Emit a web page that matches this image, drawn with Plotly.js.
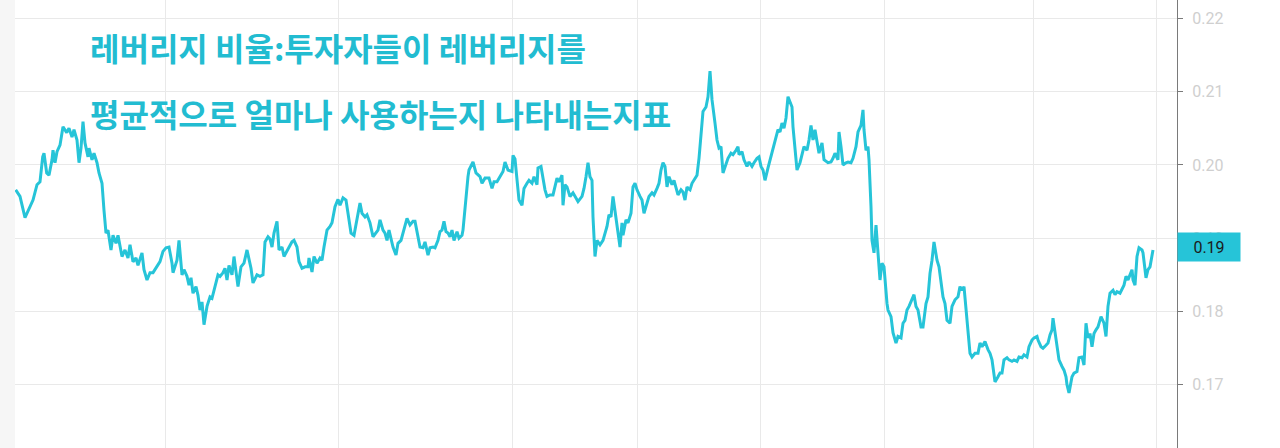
<!DOCTYPE html>
<html>
<head>
<meta charset="utf-8">
<script src="https://cdn.plot.ly/plotly-3.0.1.min.js"></script>
<style>
  html, body { margin: 0; padding: 0; background: #ffffff; }
  #chart { width: 1280px; height: 448px; }
</style>
</head>
<body>
<div id="chart"></div>
<script>
// Time position of each reading (trading-day index)
const days = [
  0.7, 5, 10, 13, 18, 22, 25, 27.7, 29, 31.7, 34, 37, 38, 40, 42, 45, 48, 51.7, 54, 57, 59, 62, 64, 66, 68, 70, 73, 74, 77, 79, 82, 84, 87, 89, 91, 93, 96, 98, 101, 103, 107, 110, 113, 115, 118, 121, 123, 127, 129, 132, 135, 138, 142, 145, 148, 151,
  154, 157, 158, 162, 164, 167, 169, 172, 174, 176, 178, 181, 183, 185, 187, 189, 192, 195, 197, 200, 203, 205, 208, 210, 212, 214, 217, 219, 221, 223, 226, 229, 232, 234, 236, 238, 242, 245, 248, 250, 253, 255, 257, 259, 262, 264, 267, 269, 272, 274, 277, 279, 282, 284, 287, 290, 293, 294, 297, 299, 302, 305, 307, 309, 312, 315, 317, 320,
  323, 325, 328, 331, 333, 336, 339, 343, 345, 347, 350, 352, 355, 358, 361, 363, 365, 368, 370, 372, 374, 377, 378, 381, 383, 386, 388, 390, 392, 395, 398, 400, 403, 405, 408, 410, 413, 415, 418, 420, 423, 425, 427, 429, 431, 433, 435, 437, 439, 442, 444, 447, 448, 450, 453, 454, 457, 458, 461, 463, 465, 467, 470, 473, 474, 477, 479, 482, 485, 488, 490, 493, 497,
  498, 500, 502, 504, 507, 509, 512, 514, 517, 519, 522, 523, 526, 528, 530, 532, 535, 538, 540, 542, 544, 547, 548, 550, 552, 555, 558, 560, 563, 567, 569, 571, 573, 575, 577, 578, 580, 582, 585, 588, 590, 592, 594, 596, 598, 600, 602, 605, 607, 608, 611, 613, 616, 618, 620, 622, 625, 627, 629, 632, 634, 637, 639, 642, 644, 646, 648, 650, 652, 654, 657, 659, 661, 663, 666, 668, 670, 672,
  673, 675, 677, 679, 682, 684, 686, 688, 691, 693, 695, 697, 700, 702, 704, 706, 708, 711, 713, 716, 718, 721, 723, 724, 727, 729, 732, 734, 737, 739, 742, 744, 746, 748, 750, 753, 755, 757, 760, 763, 765, 767, 769, 771, 773, 775, 777, 778, 780, 782, 785, 787, 789, 792, 794, 796, 798, 800, 802, 804, 807, 809, 813, 816, 818, 820, 823, 824, 826, 828, 831, 833, 836, 838, 841, 843, 846, 848, 849, 851, 853,
  854, 856, 857, 859, 861, 863, 865, 867, 869, 872, 873, 876, 878, 881, 883, 886, 888, 890, 892, 894, 897, 899, 901, 903, 906, 908, 911, 913, 915, 917, 919, 922, 924, 926, 928, 930, 932, 935, 937, 940, 943, 945, 947, 949, 951, 953, 955, 957, 960, 963, 965, 967, 970, 973, 975, 977, 980, 983,
  985, 987, 989, 992, 994, 997, 999, 1002, 1004, 1007, 1009, 1012, 1014, 1017, 1019, 1022, 1023, 1026, 1028, 1031, 1033, 1035, 1037, 1038, 1040, 1042, 1044, 1047, 1049, 1051, 1052, 1054, 1057, 1059, 1062, 1064, 1067, 1069, 1071, 1073, 1075, 1077, 1079, 1081, 1083, 1086, 1088, 1089, 1091, 1093, 1095, 1098, 1100, 1102, 1105, 1108, 1109, 1111, 1113, 1115, 1117, 1118, 1120, 1122, 1124, 1127, 1128, 1131, 1133, 1135, 1137, 1138
];

// Leverage ratio readings
const leverage = [
  0.1966, 0.1957, 0.1928, 0.1938, 0.1952, 0.1973, 0.1977, 0.2011, 0.2016, 0.1989, 0.1986, 0.2007, 0.2020, 0.2003, 0.2018, 0.2027, 0.2052, 0.2044, 0.2050, 0.2038, 0.2048, 0.2034, 0.2003, 0.2023, 0.2059, 0.2030, 0.2011, 0.2023, 0.2007, 0.2016, 0.2003, 0.1989, 0.1975, 0.1938, 0.1907, 0.1911, 0.1884, 0.1904, 0.1893, 0.1904, 0.1875, 0.1884, 0.1873, 0.1891, 0.1868, 0.1873, 0.1863, 0.1880, 0.1857, 0.1843, 0.1853, 0.1853, 0.1861, 0.1868, 0.1882, 0.1887,
  0.1888, 0.1866, 0.1853, 0.1870, 0.1897, 0.1850, 0.1857, 0.1848, 0.1836, 0.1846, 0.1825, 0.1834, 0.1822, 0.1802, 0.1813, 0.1782, 0.1807, 0.1820, 0.1818, 0.1834, 0.1850, 0.1848, 0.1853, 0.1859, 0.1843, 0.1863, 0.1850, 0.1875, 0.1854, 0.1834, 0.1861, 0.1866, 0.1884, 0.1870, 0.1859, 0.1839, 0.1850, 0.1848, 0.1850, 0.1895, 0.1902, 0.1899, 0.1888, 0.1907, 0.1923, 0.1884, 0.1888, 0.1875, 0.1882, 0.1887, 0.1895, 0.1897, 0.1888, 0.1868, 0.1859, 0.1861, 0.1861, 0.1873, 0.1854, 0.1875, 0.1866, 0.1873, 0.1870, 0.1888, 0.1911, 0.1916, 0.1921, 0.1943, 0.1953,
  0.1945, 0.1955, 0.1952, 0.1934, 0.1907, 0.1904, 0.1934, 0.1948, 0.1934, 0.1929, 0.1932, 0.1921, 0.1902, 0.1907, 0.1911, 0.1925, 0.1911, 0.1907, 0.1897, 0.1911, 0.1893, 0.1888, 0.1877, 0.1893, 0.1897, 0.1907, 0.1914, 0.1927, 0.1918, 0.1923, 0.1923, 0.1900, 0.1888, 0.1887, 0.1895, 0.1877, 0.1887, 0.1888, 0.1887, 0.1897, 0.1909, 0.1911, 0.1923, 0.1909, 0.1907, 0.1902, 0.1911, 0.1897, 0.1909, 0.1900, 0.1904, 0.1911, 0.1943, 0.1984, 0.1993, 0.2003, 0.2004, 0.1989, 0.1986, 0.1984, 0.1975, 0.1982, 0.1982, 0.1982, 0.1968, 0.1977, 0.1977, 0.1984, 0.1991, 0.2004, 0.1993, 0.1991, 0.2013,
  0.2008, 0.1984, 0.1952, 0.1945, 0.1968, 0.1975, 0.1979, 0.1975, 0.1984, 0.1973, 0.1996, 0.1998, 0.1979, 0.1966, 0.1957, 0.1959, 0.1959, 0.1970, 0.1982, 0.1977, 0.1986, 0.1945, 0.1973, 0.1970, 0.1957, 0.1962, 0.1957, 0.1950, 0.1957, 0.1968, 0.1984, 0.2003, 0.1984, 0.1979, 0.1929, 0.1875, 0.1897, 0.1891, 0.1897, 0.1907, 0.1916, 0.1932, 0.1929, 0.1957, 0.1938, 0.1916, 0.1888, 0.1921, 0.1904, 0.1925, 0.1921, 0.1934, 0.1970, 0.1975, 0.1966, 0.1957, 0.1952, 0.1934, 0.1948, 0.1957, 0.1962, 0.1959, 0.1968, 0.1975, 0.1993, 0.2003, 0.1998, 0.1970, 0.1984, 0.1973, 0.1979, 0.1970,
  0.1959, 0.1966, 0.1963, 0.1952, 0.1970, 0.1968, 0.1966, 0.1975, 0.1979, 0.1986, 0.2009, 0.2037, 0.2073, 0.2079, 0.2093, 0.2128, 0.2089, 0.2057, 0.2034, 0.2023, 0.2025, 0.1989, 0.2000, 0.2009, 0.2016, 0.2014, 0.2020, 0.2025, 0.2014, 0.2018, 0.2007, 0.1998, 0.2004, 0.1998, 0.2003, 0.2009, 0.2011, 0.1998, 0.1993, 0.1979, 0.1996, 0.2007, 0.2016, 0.2034, 0.2048, 0.2045, 0.2057, 0.2050, 0.2064, 0.2093, 0.2086, 0.2079, 0.2052, 0.2016, 0.1993, 0.2003, 0.2014, 0.2025, 0.2020, 0.2034, 0.2054, 0.2034, 0.2048, 0.2034, 0.2016, 0.2030, 0.2007, 0.2003, 0.2004, 0.2009, 0.2016, 0.2007, 0.2045, 0.2025, 0.2000, 0.2003, 0.2004, 0.2003, 0.2009,
  0.2025, 0.2045, 0.2054, 0.2075, 0.2048, 0.2020, 0.2025, 0.2007, 0.1943, 0.1897, 0.1880, 0.1918, 0.1880, 0.1843, 0.1866, 0.1861, 0.1811, 0.1802, 0.1793, 0.1771, 0.1757, 0.1766, 0.1764, 0.1784, 0.1788, 0.1802, 0.1807, 0.1816, 0.1823, 0.1807, 0.1802, 0.1779, 0.1779, 0.1811, 0.1820, 0.1852, 0.1870, 0.1895, 0.1870, 0.1861, 0.1839, 0.1820, 0.1811, 0.1788, 0.1784, 0.1807, 0.1816, 0.1820, 0.1834, 0.1829, 0.1834, 0.1807, 0.1775, 0.1743, 0.1738, 0.1743, 0.1743, 0.1757, 0.1752, 0.1759, 0.1748,
  0.1743, 0.1734, 0.1704, 0.1711, 0.1716, 0.1716, 0.1734, 0.1737, 0.1734, 0.1732, 0.1734, 0.1732, 0.1738, 0.1737, 0.1741, 0.1738, 0.1752, 0.1761, 0.1764, 0.1766, 0.1761, 0.1752, 0.1750, 0.1754, 0.1757, 0.1768, 0.1775, 0.1791, 0.1772, 0.1757, 0.1734, 0.1725, 0.1720, 0.1711, 0.1700, 0.1689, 0.1711, 0.1716, 0.1718, 0.1737, 0.1738, 0.1727, 0.1784, 0.1764, 0.1770, 0.1752, 0.1770, 0.1775, 0.1779, 0.1793, 0.1788, 0.1784, 0.1766, 0.1807, 0.1825, 0.1829, 0.1823, 0.1827, 0.1825, 0.1832, 0.1836, 0.1848, 0.1843, 0.1850, 0.1857, 0.1843, 0.1836, 0.1875, 0.1887, 0.1884, 0.1880, 0.1846, 0.1857, 0.1861, 0.1875, 0.1884, 0.1888
];

// Vertical grid positions (date ticks, labels not shown in the crop)
const gridDays = [150, 323, 497, 622, 745, 869, 1018, 1141];
const yTicks = [0.17, 0.18, 0.19, 0.20, 0.21, 0.22];

const titleLine1 = '레버리지 비율:투자자들이 레버리지를';
const titleLine2 = '평균적으로 얼마나 사용하는지 나타내는지표';

const lineColor = '#26c4d8';
const lastValue = leverage[leverage.length - 1];

const trace = {
  type: 'scatter',
  mode: 'lines',
  x: days,
  y: leverage,
  line: { color: lineColor, width: 3 },
  hoverinfo: 'y'
};

const plotL = 15, plotR = 103;
const plotW = 1280 - plotL - plotR;

const layout = {
  width: 1280,
  height: 448,
  margin: { l: plotL, r: plotR, t: 0, b: 0, pad: 0 },
  paper_bgcolor: '#ffffff',
  plot_bgcolor: '#ffffff',
  showlegend: false,
  font: { family: 'Roboto, "Noto Sans", sans-serif' },
  xaxis: {
    range: [0, 1162],
    tickmode: 'array',
    tickvals: gridDays,
    showticklabels: false,
    ticks: '',
    showgrid: true,
    gridcolor: '#e9e9e9',
    gridwidth: 1,
    zeroline: false,
    showline: false,
    fixedrange: true
  },
  yaxis: {
    side: 'right',
    range: [0.16138, 0.2225],
    tickmode: 'array',
    tickvals: yTicks,
    ticktext: yTicks.map(v => v.toFixed(2)),
    ticks: 'outside',
    ticklen: 5,
    tickwidth: 1,
    tickcolor: '#7a7a7a',
    ticklabelstandoff: 6,
    tickfont: { family: 'Roboto, sans-serif', size: 16, color: '#cfcfcf' },
    showline: true,
    linecolor: '#7a7a7a',
    linewidth: 1,
    showgrid: true,
    gridcolor: '#e9e9e9',
    gridwidth: 1,
    zeroline: false,
    fixedrange: true
  },
  shapes: [
    {
      type: 'rect', xref: 'paper', yref: 'paper',
      x0: -plotL / plotW, x1: 0, y0: 0, y1: 1,
      fillcolor: '#f6f6f6', line: { width: 0 }, layer: 'below'
    }
  ],
  annotations: [
    {
      xref: 'paper', yref: 'paper',
      x: (88 - plotL) / plotW, y: 1 - 47 / 448,
      xanchor: 'left', yanchor: 'middle',
      showarrow: false,
      text: '<b>' + titleLine1 + '</b>',
      font: { family: '"Noto Sans CJK KR", sans-serif', size: 32, color: '#22bcd1' }
    },
    {
      xref: 'paper', yref: 'paper',
      x: (88 - plotL) / plotW, y: 1 - 113 / 448,
      xanchor: 'left', yanchor: 'middle',
      showarrow: false,
      text: '<b>' + titleLine2 + '</b>',
      font: { family: '"Noto Sans CJK KR", sans-serif', size: 32, color: '#22bcd1' }
    },
    {
      xref: 'paper', yref: 'y',
      x: 1, y: lastValue,
      xanchor: 'left', yanchor: 'middle',
      showarrow: false,
      text: lastValue.toFixed(2),
      width: 54, height: 20, borderpad: 4,
      align: 'center',
      bgcolor: lineColor,
      font: { family: 'Roboto, sans-serif', size: 16, color: '#1b1b1b' }
    }
  ]
};

Plotly.newPlot('chart', [trace], layout, { displayModeBar: false, staticPlot: true });
</script>
</body>
</html>
